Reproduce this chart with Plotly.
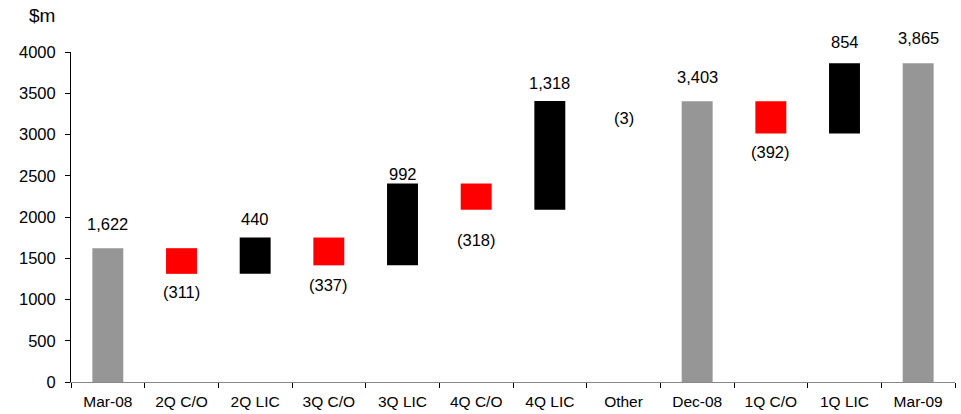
import plotly.graph_objects as go

categories = ["Mar-08", "2Q C/O", "2Q LIC", "3Q C/O", "3Q LIC", "4Q C/O",
              "4Q LIC", "Other", "Dec-08", "1Q C/O", "1Q LIC", "Mar-09"]
values = [1622, -311, 440, -337, 992, -318, 1318, -3, 3403, -392, 854, 3865]
kinds = ["total", "delta", "delta", "delta", "delta", "delta",
         "delta", "delta", "total", "delta", "delta", "total"]
labels = ["1,622", "(311)", "440", "(337)", "992", "(318)", "1,318", "(3)",
          "3,403", "(392)", "854", "3,865"]

# label offsets in pixels (style), as placed in the original
label_shift = [24, -18, 19, -20, 10, -30, 18, -17, 24, -18, 21, 25]

GREY, RED, BLACK = "#969696", "#ff0000", "#000000"

bases, heights, colors = [], [], []
running = 0
for v, k in zip(values, kinds):
    if k == "total":
        bases.append(0)
        heights.append(v)
        colors.append(GREY)
        running = v
    else:
        if v >= 0:
            bases.append(running)
            heights.append(v)
            colors.append(BLACK)
        else:
            bases.append(running + v)
            heights.append(-v)
            # sub-pixel bars are invisible in the original
            colors.append(RED if -v >= 10 else "rgba(255,0,0,0)")
        running += v

fig = go.Figure()
fig.add_trace(go.Bar(x=categories, y=heights, base=bases, marker_color=colors,
                     marker_line_width=0, width=0.42, hoverinfo="skip"))

for c, v, b, h, t, s in zip(categories, values, bases, heights, labels, label_shift):
    yv = b + h if v >= 0 else b
    fig.add_annotation(x=c, y=yv, text=t, showarrow=False,
                       yanchor="middle", yshift=s, font=dict(size=16.5))

fig.add_annotation(xref="paper", yref="paper", x=-0.033, y=1.0, yshift=37,
                   text="$m", showarrow=False, xanchor="center", yanchor="middle",
                   font=dict(size=19))

fig.update_layout(
    width=961, height=414,
    margin=dict(l=71, r=6, t=52, b=32),
    plot_bgcolor="white", paper_bgcolor="white",
    showlegend=False,
    font=dict(family="Liberation Sans, Arial, sans-serif", size=16, color="#000000"),
)
fig.update_xaxes(type="category", tickson="boundaries", ticks="outside", ticklen=5,
                 tickcolor="#000000", showline=True, linecolor="#888888", linewidth=1,
                 showgrid=False, tickfont=dict(size=15.5), range=[-0.5, 11.5],
                 ticklabelstandoff=5, automargin=False)
fig.update_yaxes(range=[0, 4000], tickvals=list(range(0, 4001, 500)),
                 ticks="outside", ticklen=5, tickcolor="#000000", showline=True,
                 linecolor="#000000", linewidth=1, showgrid=False, zeroline=False,
                 tickfont=dict(size=16.5), ticklabelstandoff=6, automargin=False)

fig.write_html("out.html")
